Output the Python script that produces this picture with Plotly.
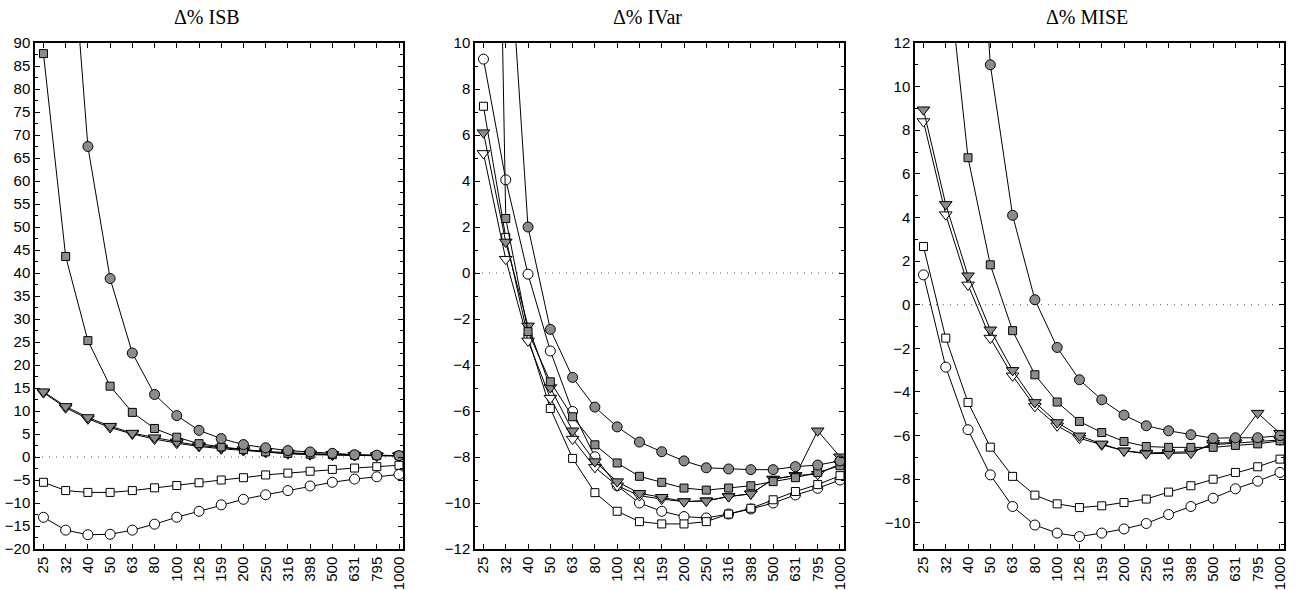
import plotly.graph_objects as go

categories = ["25", "32", "40", "50", "63", "80", "100", "126", "159", "200",
              "250", "316", "398", "500", "631", "795", "1000"]

# Δ% ISB
isb_gray_circle = [260, 130, 67.5, 38.8, 22.6, 13.6, 9.0, 5.8, 4.0, 2.7, 2.0, 1.4, 1.1, 0.8, 0.5, 0.4, 0.3]
isb_gray_square = [87.7, 43.6, 25.3, 15.4, 9.7, 6.2, 4.3, 2.9, 2.2, 1.6, 1.1, 0.8, 0.6, 0.5, 0.4, 0.3, 0.3]
isb_gray_tri = [14.2, 11.0, 8.6, 6.7, 5.2, 4.2, 3.3, 2.5, 2.0, 1.6, 1.2, 0.9, 0.7, 0.6, 0.4, 0.3, 0.3]
isb_white_tri = [14.0, 10.7, 8.3, 6.4, 5.0, 3.9, 3.0, 2.3, 1.8, 1.4, 1.0, 0.7, 0.5, 0.4, 0.3, 0.2, 0.2]
isb_white_square = [-5.5, -7.3, -7.7, -7.7, -7.3, -6.7, -6.2, -5.6, -5.0, -4.5, -3.9, -3.5, -3.1, -2.7, -2.4, -2.1, -1.8]
isb_white_circle = [-13.1, -15.9, -16.9, -16.8, -15.9, -14.6, -13.1, -11.8, -10.4, -9.2, -8.2, -7.3, -6.3, -5.5, -4.8, -4.3, -3.8]

# Δ% IVar
ivar_gray_circle = [60, 16.8, 2.0, -2.45, -4.54, -5.83, -6.69, -7.35, -7.77, -8.17, -8.47, -8.52, -8.55, -8.55, -8.42, -8.35, -8.17]
ivar_gray_square = [56, 2.37, -2.55, -4.73, -6.25, -7.47, -8.26, -8.84, -9.1, -9.35, -9.44, -9.35, -9.25, -9.07, -8.9, -8.67, -8.38]
ivar_gray_tri = [6.1, 1.35, -2.3, -4.98, -6.86, -8.2, -9.07, -9.58, -9.75, -9.94, -9.91, -9.72, -9.6, -8.96, -8.81, -6.86, -7.99]
ivar_white_tri = [5.2, 0.6, -2.95, -5.44, -7.22, -8.45, -9.25, -9.68, -9.83, -9.94, -9.9, -9.72, -9.6, -8.96, -8.8, -8.75, -8.3]
ivar_white_square = [7.25, 1.55, -2.8, -5.89, -8.06, -9.55, -10.36, -10.81, -10.91, -10.91, -10.81, -10.48, -10.23, -9.86, -9.5, -9.2, -8.81]
ivar_white_circle = [9.3, 4.05, -0.05, -3.39, -6.02, -7.99, -9.25, -10.0, -10.36, -10.59, -10.65, -10.48, -10.26, -10.0, -9.65, -9.36, -9.0]

# Δ% MISE
mise_gray_circle = [80, 50, 27, 11.0, 4.1, 0.23, -1.96, -3.44, -4.36, -5.06, -5.55, -5.78, -5.96, -6.12, -6.1, -6.1, -6.0]
mise_gray_square = [30, 16.3, 6.74, 1.83, -1.19, -3.21, -4.46, -5.35, -5.86, -6.27, -6.5, -6.54, -6.54, -6.54, -6.45, -6.38, -6.24]
mise_gray_tri = [8.94, 4.6, 1.33, -1.15, -3.01, -4.48, -5.4, -6.01, -6.38, -6.7, -6.83, -6.83, -6.8, -6.35, -6.32, -4.97, -5.89]
mise_white_tri = [8.4, 4.13, 0.91, -1.53, -3.26, -4.66, -5.55, -6.12, -6.42, -6.7, -6.8, -6.77, -6.74, -6.42, -6.35, -6.3, -6.2]
mise_white_square = [2.67, -1.53, -4.48, -6.53, -7.87, -8.73, -9.13, -9.3, -9.22, -9.07, -8.91, -8.59, -8.3, -8.0, -7.69, -7.43, -7.08]
mise_white_circle = [1.37, -2.86, -5.73, -7.8, -9.25, -10.1, -10.47, -10.63, -10.47, -10.28, -10.03, -9.62, -9.25, -8.87, -8.44, -8.09, -7.69]

titles = ["Δ% ISB", "Δ% IVar", "Δ% MISE"]
y_ranges = [[-20, 90], [-12, 10], [-11.2, 12]]
y_dticks = [5, 2, 2]
y_minor = [2.5, 1, 1]

GRAY = "#8c8c8c"
WHITE = "#ffffff"
# (fill, symbol, size) per series, in drawing order
styles = [
    (WHITE, "circle", 10),
    (WHITE, "square", 8),
    (WHITE, "triangle-down", 11),
    (GRAY, "triangle-down", 11),
    (GRAY, "square", 8),
    (GRAY, "circle", 10),
]
panels = [
    [isb_white_circle, isb_white_square, isb_white_tri, isb_gray_tri, isb_gray_square, isb_gray_circle],
    [ivar_white_circle, ivar_white_square, ivar_white_tri, ivar_gray_tri, ivar_gray_square, ivar_gray_circle],
    [mise_white_circle, mise_white_square, mise_white_tri, mise_gray_tri, mise_gray_square, mise_gray_circle],
]

W, H = 1301, 590
x_px = [(35, 403), (475, 844), (915, 1284)]
y_dom = [1 - 549 / H, 1 - 43 / H]
title_px = [207, 647, 1087]

fig = go.Figure()
tick_font = dict(family="Liberation Sans, Arial, sans-serif", size=15, color="black")

for i, series in enumerate(panels):
    xa = "x" if i == 0 else f"x{i+1}"
    ya = "y" if i == 0 else f"y{i+1}"
    for vals, (fill, sym, size) in zip(series, styles):
        fig.add_trace(go.Scatter(
            x=categories, y=vals, mode="lines+markers",
            xaxis=xa, yaxis=ya, showlegend=False,
            line=dict(color="black", width=1),
            marker=dict(symbol=sym, size=size, color=fill,
                        line=dict(color="black", width=1)),
        ))
    axkey = "xaxis" if i == 0 else f"xaxis{i+1}"
    aykey = "yaxis" if i == 0 else f"yaxis{i+1}"
    fig.update_layout(**{
        axkey: dict(
            domain=[x_px[i][0] / W, x_px[i][1] / W],
            anchor=ya, type="category", range=[-0.38, 16.18],
            tickmode="array", tickvals=categories, ticktext=categories,
            tickangle=-90, ticks="inside", ticklen=5, tickwidth=1, tickcolor="black",
            showline=True, linecolor="black", linewidth=1.5, mirror="ticks",
            showgrid=False, zeroline=False, tickfont=tick_font, automargin=False,
        ),
        aykey: dict(
            domain=y_dom, anchor=xa, range=y_ranges[i], dtick=y_dticks[i], tick0=0,
            ticks="inside", ticklen=5, tickwidth=1, tickcolor="black",
            minor=dict(dtick=y_minor[i], ticks="inside", ticklen=3, tickcolor="black", tickwidth=1),
            showline=True, linecolor="black", linewidth=1.5, mirror="ticks",
            showgrid=False, zeroline=False, tickfont=tick_font, automargin=False,
        ),
    })
    fig.add_shape(type="line", xref=f"{xa} domain", yref=ya, x0=0, x1=1, y0=0, y1=0,
                  line=dict(color="#555555", width=1, dash="1px,6px"), layer="below")
    fig.add_annotation(text=titles[i], xref="paper", yref="paper",
                       x=title_px[i] / W, y=1 - 17 / H, showarrow=False,
                       xanchor="center", yanchor="middle",
                       font=dict(family="Liberation Serif, Times New Roman, serif", size=20, color="black"))

fig.update_layout(width=W, height=H, margin=dict(l=0, r=0, t=0, b=0),
                  paper_bgcolor="white", plot_bgcolor="white")
fig.write_html("out.html", config={"displayModeBar": False},
               post_script="document.body.style.margin='0';document.body.style.overflow='hidden';")
